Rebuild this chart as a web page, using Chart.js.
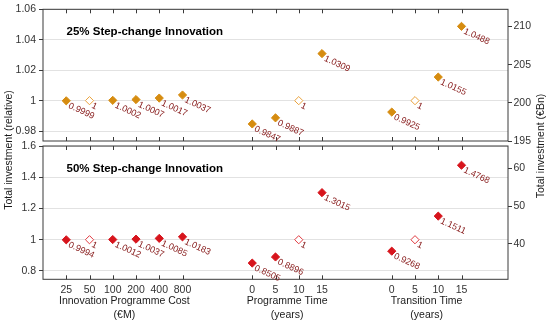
<!DOCTYPE html>
<html lang="en">
  <head>
    <meta charset="UTF-8" />
    <title>Step-change Innovation</title>
    <script src="https://cdn.jsdelivr.net/npm/chart.js"></script>
    <style>
      body { margin: 0; background: #fff; }
      #wrap { position: relative; width: 550px; height: 326px; }
      #wrap canvas { position: absolute; left: 0; top: 0; }
    </style>
  </head>
  <body>
    <div id="wrap">
      <canvas id="topChart" width="550" height="326"></canvas>
      <canvas id="bottomChart" width="550" height="326"></canvas>
    </div>

    <script>
      // x positions of the three groups (gaps between groups)
      const xPositions = [1, 2, 3, 4, 5, 6, 9, 10, 11, 12, 15, 16, 17, 18];
      const xTickLabels = ["25", "50", "100", "200", "400", "800", "0", "5", "10", "15", "0", "5", "10", "15"];
      const baselinePoint = [false, true, false, false, false, false, false, false, true, false, false, true, false, false];

      const groupTitles = ["Innovation Programme Cost", "Programme Time", "Transition Time"];
      const groupUnits = ["(€M)", "(years)", "(years)"];
      const groupMembers = [[0, 5], [6, 9], [10, 13]];

      // values (relative total investment)
      const values25 = [0.9999, 1, 1.0002, 1.0007, 1.0017, 1.0037, 0.9847, 0.9887, 1, 1.0309, 0.9925, 1, 1.0155, 1.0488];
      const values50 = [0.9994, 1, 1.0012, 1.0037, 1.0085, 1.0183, 0.8505, 0.8896, 1, 1.3015, 0.9268, 1, 1.1511, 1.4768];

      // axis ticks
      const ticksTopLeft = [0.98, 1, 1.02, 1.04, 1.06];
      const ticksTopRight = [195, 200, 205, 210];
      const ticksBottomLeft = [0.8, 1, 1.2, 1.4, 1.6];
      const ticksBottomRight = [40, 50, 60];

      const FONT = "'Liberation Sans', Arial, sans-serif";
      Chart.defaults.font.family = FONT;
      Chart.defaults.font.size = 10.5;
      Chart.defaults.color = "#333";

      const frameColor = "#3a3a3a";

      // frame + inward ticks on top/bottom edges
      const framePlugin = {
        id: "frame",
        beforeDatasetsDraw(chart) {
          const { ctx, chartArea: a } = chart;
          const xs = chart.scales.x;
          ctx.save();
          ctx.strokeStyle = frameColor;
          ctx.lineWidth = 1;
          ctx.strokeRect(a.left, a.top, a.right - a.left, a.bottom - a.top);
          ctx.beginPath();
          xPositions.forEach(p => {
            const px = Math.round(xs.getPixelForValue(p)) + 0.5;
            ctx.moveTo(px, a.top);
            ctx.lineTo(px, a.top + 4);
            ctx.moveTo(px, a.bottom);
            ctx.lineTo(px, a.bottom - 4);
          });
          ctx.stroke();
          ctx.restore();
        },
      };

      // rotated value labels + panel title
      const labelPlugin = {
        id: "labels",
        afterDatasetsDraw(chart, args, opts) {
          const { ctx, chartArea: a } = chart;
          const meta = chart.getDatasetMeta(0);
          ctx.save();
          ctx.fillStyle = "#8a2020";
          ctx.font = "9px " + FONT;
          ctx.textAlign = "left";
          ctx.textBaseline = "top";
          meta.data.forEach((pt, i) => {
            ctx.save();
            ctx.translate(pt.x + 4.5, pt.y + 0.5);
            ctx.rotate(0.43);
            ctx.fillText(String(opts.values[i]), 0, 0);
            ctx.restore();
          });
          ctx.fillStyle = "#000";
          ctx.font = "bold 11.5px " + FONT;
          ctx.textBaseline = "middle";
          ctx.fillText(opts.title, a.left + 23.5, a.top + 23);
          ctx.restore();
        },
      };

      // axis titles spanning both panels and group titles
      const titlesPlugin = {
        id: "titles",
        afterDraw(chart) {
          const { ctx } = chart;
          const xs = chart.scales.x;
          ctx.save();
          ctx.fillStyle = "#1a1a1a";
          ctx.font = "10.5px " + FONT;
          ctx.textAlign = "center";
          ctx.textBaseline = "middle";
          groupTitles.forEach((t, g) => {
            const [i0, i1] = groupMembers[g];
            const cx = (xs.getPixelForValue(xPositions[i0]) + xs.getPixelForValue(xPositions[i1])) / 2;
            ctx.fillText(t, cx, 301.5);
            ctx.fillText(groupUnits[g], cx, 315);
          });
          ctx.save();
          ctx.translate(9, 150);
          ctx.rotate(-Math.PI / 2);
          ctx.fillText("Total investment (relative)", 0, 0);
          ctx.restore();
          ctx.save();
          ctx.translate(541.5, 146);
          ctx.rotate(-Math.PI / 2);
          ctx.fillText("Total investment (€Bn)", 0, 0);
          ctx.restore();
          ctx.restore();
        },
      };

      function fmt(v) {
        return String(Math.round(v * 1000) / 1000);
      }

      function panel(canvasId, values, color, hollowColor, title, leftTicks, rightTicks, yRange, y2Range, padTop, padBottom, showX) {
        const points = xPositions.map((x, i) => ({ x: x, y: values[i] }));
        new Chart(document.getElementById(canvasId).getContext("2d"), {
          type: "scatter",
          data: {
            datasets: [
              {
                data: points,
                pointStyle: "rectRot",
                pointRadius: 4.1,
                pointBorderWidth: 1,
                backgroundColor: baselinePoint.map(b => (b ? "#ffffff" : color)),
                borderColor: baselinePoint.map(b => (b ? hollowColor : color)),
              },
            ],
          },
          options: {
            responsive: false,
            animation: false,
            events: [],
            layout: { padding: { top: padTop, bottom: padBottom, left: 0, right: 0 } },
            plugins: {
              legend: { display: false },
              tooltip: { enabled: false },
              labels: { values: values, title: title },
            },
            scales: {
              x: {
                type: "linear",
                min: 0,
                max: 20,
                display: showX,
                afterFit: s => { s.height = showX ? 46.7 : 0; },
                afterBuildTicks: s => { s.ticks = xPositions.map(v => ({ value: v })); },
                ticks: {
                  padding: 5,
                  color: "#333",
                  callback: v => xTickLabels[xPositions.indexOf(v)],
                },
                grid: { display: false, drawTicks: false },
                border: { display: false },
              },
              y: {
                type: "linear",
                position: "left",
                min: yRange[0],
                max: yRange[1],
                afterFit: s => { s.width = 43; },
                afterBuildTicks: s => { s.ticks = leftTicks.map(v => ({ value: v })); },
                ticks: { padding: 3, color: "#333", callback: v => fmt(v) },
                grid: { color: "#e2e2e2", tickColor: frameColor, tickLength: 4 },
                border: { display: false },
              },
              y2: {
                type: "linear",
                position: "right",
                min: y2Range[0],
                max: y2Range[1],
                afterFit: s => { s.width = 42; },
                afterBuildTicks: s => { s.ticks = rightTicks.map(v => ({ value: v })); },
                ticks: { padding: 1.5, color: "#333", callback: v => String(v) },
                grid: { drawOnChartArea: false, tickColor: frameColor, tickLength: 4 },
                border: { display: false },
              },
            },
          },
          plugins: showX ? [framePlugin, labelPlugin, titlesPlugin] : [framePlugin, labelPlugin],
        });
      }

      panel("topChart", values25, "#d68c10", "#eaa23c", "25% Step-change Innovation",
        ticksTopLeft, ticksTopRight, [0.9735, 1.06], [195, 212.26], 8, 185, false);
      panel("bottomChart", values50, "#d7141c", "#e0393f", "50% Step-change Innovation",
        ticksBottomLeft, ticksBottomRight, [0.7466, 1.6], [30.66, 65.9], 146, 0, true);
    </script>
  </body>
</html>
